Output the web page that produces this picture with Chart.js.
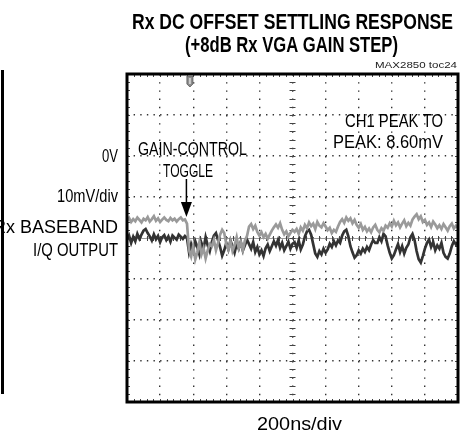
<!DOCTYPE html>
<html>
<head>
<meta charset="utf-8">
<script src="https://cdn.jsdelivr.net/npm/chart.js@4.4.1/dist/chart.umd.min.js"></script>
<style>
  html, body { margin: 0; padding: 0; background: #fff; }
  #wrap { position: relative; width: 468px; height: 439px; }
  canvas { display: block; }
</style>
</head>
<body>
<div id="wrap"><canvas id="c" width="468" height="439"></canvas></div>
<script>
// ---- Data ----
const timeStepNs = 12.5;          // sample spacing, 0 .. 2000 ns (10 div x 200 ns)
const timeRangeNs = [0, 2000];
const voltRangeMv = [-40, 40];    // 8 div x 10 mV
const toggleTimeNs = 362;

// CH1 (light gray trace), mV
const ch1mV = [
  4.2,4.9,3.9,4.6,4.1,5.0,4.4,3.8,4.7,4.3,5.1,4.0,4.6,5.3,4.2,4.8,3.9,4.5,5.0,4.4,4.1,4.9,4.3,4.7,4.0,4.6,5.0,4.3,4.5,
  3.5,
  -3.0,
  -4.5,-2.0,-5.2,-3.5,-1.0,-4.0,-2.5,-5.0,-3.0,-1.5,
  -2.0,-0.5,-3.0,-1.2,0.8,2.0,1.2,-1.5,-2.8,-0.8,-3.2,-1.8,0.2,-2.5,-1.0,-3.0,-0.6,0.5,
  2.8,3.4,2.2,3.0,1.5,0.6,1.4,0.2,1.0,-0.2,0.8,1.8,2.6,3.3,2.5,3.6,2.0,0.9,1.6,0.4,1.2,2.0,
  1.5,2.2,1.0,2.6,1.8,3.2,2.4,3.8,2.9,3.5,2.2,3.9,3.0,2.6,3.6,2.8,1.9,2.5,1.2,2.0,
  1.5,2.8,3.9,4.6,3.7,5.0,4.2,4.8,3.6,4.4,3.2,2.5,3.4,2.0,2.7,1.6,2.3,1.4,2.6,3.2,
  2.0,1.4,2.4,1.8,3.0,2.5,3.6,2.8,4.2,3.1,3.8,2.6,3.5,4.3,2.9,3.7,3.0,4.5,5.2,5.8,
  4.6,5.3,3.9,4.4,3.2,3.8,2.7,4.0,3.3,2.4,3.1,2.2,3.4,2.6,1.8,2.9,3.5,2.3,3.0,2.5
];
// CH2 (dark trace), mV
const ch2mV = [
  -0.5,0.6,-1.2,0.3,-0.8,1.0,-0.2,0.8,1.8,2.2,1.2,0.4,-0.6,0.9,-0.3,0.5,-1.0,0.2,0.7,-0.5,0.4,-0.9,0.6,0.1,-0.4,0.8,0.3,-0.2,0.5,
  0.0,
  -3.5,
  -1.5,-3.0,-0.8,-2.2,-4.0,-1.2,-2.6,0.2,-1.8,-3.2,
  -1.0,0.6,1.2,-0.5,-2.2,-4.3,-3.0,-1.2,-2.8,-0.6,-2.0,-3.6,-1.5,-2.6,-0.9,-3.1,-1.8,-0.4,
  -1.5,-2.6,-1.0,-3.4,-2.2,-4.0,-3.0,-4.4,-2.5,-1.6,-3.2,-2.0,-0.8,-1.9,-0.5,-2.4,-1.2,-3.0,-2.0,-0.9,-2.6,-1.4,
  -1.0,-2.4,-0.6,-2.8,-1.6,0.4,1.6,2.0,0.8,-1.5,-3.8,-4.6,-3.2,-4.0,-2.6,-3.6,-2.8,-1.4,-2.2,-0.8,
  -1.8,-0.6,-1.2,0.6,1.6,2.0,0.4,-2.0,-3.5,-4.8,-4.2,-3.0,-3.8,-2.6,-3.4,-2.2,-3.0,-1.6,-0.5,-1.2,
  -1.2,0.2,-0.8,1.0,0.4,-1.8,-3.6,-5.0,-4.2,-2.8,-1.5,-3.4,-2.0,-3.8,-2.4,-1.6,0.2,1.0,-0.5,-3.2,
  -5.2,-6.0,-4.4,-2.6,-1.2,-0.4,-2.2,-1.0,-3.0,-1.8,-2.6,-1.2,-3.6,-4.6,-5.0,-3.8,-2.0,-0.8,-1.6,-1.0
];

// ---- Texts ----
const titleLines = ['Rx DC OFFSET SETTLING RESPONSE', '(+8dB Rx VGA GAIN STEP)'];
const figureId = 'MAX2850 toc24';
const leftLabels = ['0V', '10mV/div', 'Rx BASEBAND', 'I/Q OUTPUT'];
const peakLabel = ['CH1 PEAK TO', 'PEAK: 8.60mV'];
const toggleLabel = ['GAIN-CONTROL', 'TOGGLE'];
const timeLabel = '200ns/div';

const toXY = arr => arr.map((v, i) => ({ x: i * timeStepNs, y: v }));

const FONT = "'Liberation Sans', Arial, sans-serif";

function fitText(ctx, text, x0, x1, baseline, font, color) {
  ctx.save();
  ctx.font = font;
  ctx.fillStyle = color || '#000';
  ctx.textAlign = 'left';
  ctx.textBaseline = 'alphabetic';
  const w = ctx.measureText(text).width;
  const s = (x1 - x0) / w;
  ctx.translate(x0, baseline);
  ctx.scale(s, 1);
  ctx.fillText(text, 0, 0);
  ctx.restore();
  return s;
}

const scopeDecor = {
  id: 'scopeDecor',
  beforeDatasetsDraw(chart) {
    const { ctx, chartArea: a, scales: { x, y } } = chart;
    ctx.save();
    // center horizontal reference line
    const y0 = y.getPixelForValue(0);
    const xc = x.getPixelForValue(1000);
    ctx.strokeStyle = '#9a9a9a';
    ctx.lineWidth = 1;
    ctx.beginPath(); ctx.moveTo(a.left, y0 + 0.5); ctx.lineTo(a.right, y0 + 0.5); ctx.stroke();
    // minor ticks
    ctx.strokeStyle = '#444';
    ctx.beginPath();
    for (let t = timeRangeNs[0]; t <= timeRangeNs[1]; t += 40) {
      const px = Math.round(x.getPixelForValue(t)) + 0.5;
      ctx.moveTo(px, a.top); ctx.lineTo(px, a.top + 3);
      ctx.moveTo(px, a.bottom); ctx.lineTo(px, a.bottom - 3);
      ctx.moveTo(px, y0 - 2); ctx.lineTo(px, y0 + 3);
    }
    for (let v = voltRangeMv[0]; v <= voltRangeMv[1]; v += 2) {
      const py = Math.round(y.getPixelForValue(v)) + 0.5;
      ctx.moveTo(a.left, py); ctx.lineTo(a.left + 3, py);
      ctx.moveTo(a.right, py); ctx.lineTo(a.right - 3, py);
      ctx.moveTo(xc - 3, py); ctx.lineTo(xc + 3, py);
    }
    ctx.stroke();
    ctx.restore();
  },
  afterDraw(chart) {
    const { ctx, chartArea: a, scales: { x, y } } = chart;
    ctx.save();
    // frame
    ctx.strokeStyle = '#000';
    ctx.lineWidth = 3;
    ctx.strokeRect(a.left, a.top, a.right - a.left, a.bottom - a.top);
    // cut-off neighbour frame on the far left
    ctx.fillStyle = '#000';
    ctx.fillRect(1, 70, 3, 324);

    // trigger marker
    const tx = x.getPixelForValue(toggleTimeNs) + 3;
    ctx.fillStyle = '#8c8c8c';
    ctx.strokeStyle = '#555';
    ctx.lineWidth = 0.8;
    ctx.beginPath();
    ctx.moveTo(tx - 3, a.top + 2);
    ctx.lineTo(tx + 3, a.top + 2);
    ctx.lineTo(tx + 3, a.top + 10);
    ctx.lineTo(tx, a.top + 13);
    ctx.lineTo(tx - 3, a.top + 10);
    ctx.closePath();
    ctx.fill(); ctx.stroke();
    ctx.fillStyle = '#ccc';
    ctx.fillRect(tx - 1, a.top + 4, 2, 6);

    // arrow
    const ax = x.getPixelForValue(toggleTimeNs) - 0.5;
    ctx.strokeStyle = '#000';
    ctx.lineWidth = 1.5;
    ctx.beginPath(); ctx.moveTo(ax, 179); ctx.lineTo(ax, 204); ctx.stroke();
    ctx.fillStyle = '#000';
    ctx.beginPath(); ctx.moveTo(ax - 5.5, 202); ctx.lineTo(ax + 5.5, 202); ctx.lineTo(ax, 217); ctx.closePath(); ctx.fill();

    // texts
    fitText(ctx, titleLines[0], 132, 453, 29, 'bold 22px ' + FONT);
    fitText(ctx, titleLines[1], 185, 398, 52, 'bold 22px ' + FONT);
    fitText(ctx, figureId, 375, 457, 68, '9px ' + FONT, '#222');
    const f = '18px ' + FONT;
    fitText(ctx, peakLabel[0], 345, 443, 127, f);
    fitText(ctx, peakLabel[1], 333, 443, 148, f);
    fitText(ctx, toggleLabel[0], 138, 247, 155, f);
    fitText(ctx, toggleLabel[1], 163, 213, 177, f);
    fitText(ctx, leftLabels[0], 102, 118, 162, f);
    fitText(ctx, leftLabels[1], 57, 118, 202, f);
    fitText(ctx, leftLabels[2], -7, 118, 233, f);
    fitText(ctx, leftLabels[3], 33, 118, 256, f);
    fitText(ctx, timeLabel, 257, 342, 430, f);
    ctx.restore();
  }
};

new Chart(document.getElementById('c'), {
  type: 'line',
  data: {
    datasets: [
      { label: 'CH1', data: toXY(ch1mV), borderColor: '#9a9a9a', borderWidth: 2.7, pointRadius: 0, tension: 0 },
      { label: 'CH2', data: toXY(ch2mV), borderColor: '#333333', borderWidth: 2.7, pointRadius: 0, tension: 0 }
    ]
  },
  options: {
    responsive: false,
    animation: false,
    devicePixelRatio: 1,
    layout: { padding: { left: 127, right: 10, top: 74, bottom: 37 } },
    plugins: { legend: { display: false }, tooltip: { enabled: false }, title: { display: false } },
    scales: {
      x: {
        type: 'linear', min: timeRangeNs[0], max: timeRangeNs[1],
        ticks: { display: false, stepSize: 200 },
        grid: { color: '#333', lineWidth: 1.4, drawTicks: false },
        border: { display: false, dash: [1.4, 6.8] }
      },
      y: {
        type: 'linear', min: voltRangeMv[0], max: voltRangeMv[1],
        ticks: { display: false, stepSize: 10 },
        grid: { color: '#333', lineWidth: 1.4, drawTicks: false },
        border: { display: false, dash: [1.4, 5.22] }
      }
    }
  },
  plugins: [scopeDecor]
});
</script>
</body>
</html>
